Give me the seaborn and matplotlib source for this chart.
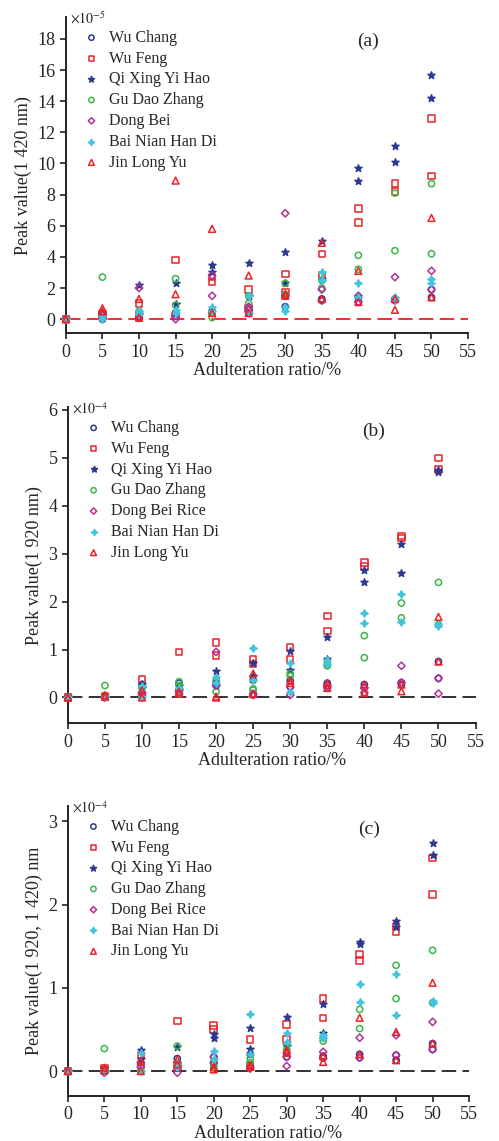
import matplotlib
matplotlib.use("Agg")
import pandas as pd
import matplotlib.pyplot as plt
import seaborn as sns

# adulteration ratio (two replicates per level)
ratio = [0, 0, 5, 5, 10, 10, 15, 15, 20, 20, 25, 25,
         30, 30, 35, 35, 40, 40, 45, 45, 50, 50]

names_a = ["Wu Chang", "Wu Feng", "Qi Xing Yi Hao", "Gu Dao Zhang",
           "Dong Bei", "Bai Nian Han Di", "Jin Long Yu"]
names_bc = ["Wu Chang", "Wu Feng", "Qi Xing Yi Hao", "Gu Dao Zhang",
            "Dong Bei Rice", "Bai Nian Han Di", "Jin Long Yu"]

# (a) peak value at 1420 nm, x1e-5
a_wu_chang = [0, 0, 0.1, 0.0, 0.3, 0.1, 0.4, 0.2, 0.5, 0.4, 0.6, 0.4,
              1.5, 0.8, 1.3, 1.2, 1.4, 1.1, 1.2, 1.3, 1.4, 1.9]
a_wu_feng = [0, 0, 0.3, 0.2, 1.0, 0.1, 3.8, 0.2, 2.7, 2.4, 1.9, 0.7,
             2.9, 1.7, 4.2, 2.8, 7.1, 6.2, 8.7, 8.2, 12.9, 9.2]
a_qi_xing = [0, 0, 0.3, 0.1, 2.2, 0.3, 2.3, 1.0, 3.5, 3.0, 3.6, 1.5,
             4.3, 2.3, 5.0, 2.6, 9.7, 8.9, 11.1, 10.1, 15.7, 14.2]
a_gu_dao = [0, 0, 2.7, 0.1, 0.5, 0.3, 2.6, 0.9, 0.4, 0.1, 1.5, 1.0,
            2.3, 1.6, 2.5, 2.0, 4.1, 3.2, 8.1, 4.4, 8.7, 4.2]
a_dong_bei = [0, 0, 0.1, 0.0, 2.0, 0.1, 0.2, 0.0, 2.8, 1.5, 0.8, 0.6,
              6.8, 1.5, 1.9, 1.2, 1.5, 1.1, 2.7, 1.2, 3.1, 1.9]
a_bai_nian = [0, 0, 0.2, 0.0, 0.5, 0.3, 0.6, 0.4, 0.8, 0.5, 1.5, 0.4,
              0.8, 0.5, 3.0, 2.5, 2.3, 1.4, 1.4, 1.2, 2.6, 2.3]
a_jin_long = [0, 0, 0.7, 0.5, 1.3, 0.1, 8.9, 1.6, 5.8, 0.4, 2.8, 0.4,
              1.6, 1.5, 4.9, 1.3, 3.1, 1.1, 1.3, 0.6, 6.5, 1.4]

# (b) peak value at 1920 nm, x1e-4
b_wu_chang = [0, 0, 0.03, 0.0, 0.27, 0.05, 0.3, 0.1, 0.3, 0.25, 0.36, 0.07,
              0.35, 0.22, 0.3, 0.25, 0.27, 0.2, 0.31, 0.27, 0.4, 0.75]
b_wu_feng = [0, 0, 0.03, 0.01, 0.39, 0.05, 0.95, 0.1, 1.15, 0.88, 0.79, 0.7,
             1.04, 0.79, 1.7, 1.39, 2.82, 2.73, 3.37, 3.33, 4.99, 4.75]
b_qi_xing = [0, 0, 0.02, 0.0, 0.28, 0.2, 0.25, 0.15, 0.56, 0.25, 0.72, 0.45,
             0.97, 0.58, 1.27, 0.8, 2.65, 2.4, 3.2, 2.6, 4.75, 4.7]
b_gu_dao = [0, 0, 0.25, 0.0, 0.2, 0.0, 0.33, 0.25, 0.35, 0.12, 0.18, 0.15,
            0.5, 0.45, 0.7, 0.66, 1.29, 0.83, 1.97, 1.66, 2.4, 1.52]
b_dong_bei = [0, 0, 0.02, 0.0, 0.1, 0.05, 0.15, 0.1, 0.95, 0.25, 0.08, 0.05,
              0.22, 0.05, 0.25, 0.2, 0.2, 0.1, 0.66, 0.31, 0.4, 0.08]
b_bai_nian = [0, 0, 0.03, 0.0, 0.25, 0.0, 0.1, 0.2, 0.43, 0.3, 1.03, 0.36,
              0.72, 0.12, 0.78, 0.7, 1.76, 1.56, 2.15, 1.57, 1.53, 1.5]
b_jin_long = [0, 0, 0.05, 0.02, 0.15, 0.0, 0.12, 0.08, 0.02, 0.0, 0.5, 0.07,
              0.35, 0.3, 0.3, 0.2, 0.27, 0.1, 0.27, 0.13, 1.68, 0.75]

# (c) peak value ratio (1920, 1420) nm, x1e-4
c_wu_chang = [0, 0, 0.02, 0.0, 0.1, 0.05, 0.15, 0.1, 0.17, 0.1, 0.2, 0.07,
              0.22, 0.17, 0.18, 0.16, 0.2, 0.16, 0.19, 0.13, 0.26, 0.33]
c_wu_feng = [0, 0, 0.03, 0.01, 0.19, 0.07, 0.6, 0.05, 0.55, 0.5, 0.38, 0.07,
             0.56, 0.38, 0.87, 0.64, 1.40, 1.33, 1.74, 1.67, 2.56, 2.12]
c_qi_xing = [0, 0, 0.02, 0.0, 0.25, 0.15, 0.29, 0.1, 0.44, 0.4, 0.52, 0.27,
             0.65, 0.3, 0.8, 0.46, 1.55, 1.53, 1.8, 1.73, 2.74, 2.59]
c_gu_dao = [0, 0, 0.27, 0.0, 0.0, 0.05, 0.3, 0.1, 0.07, 0.04, 0.15, 0.1,
            0.31, 0.25, 0.36, 0.4, 0.74, 0.51, 1.27, 0.87, 1.45, 0.82]
c_dong_bei = [0, 0, 0.0, -0.02, 0.1, 0.05, 0.05, -0.02, 0.17, 0.1, 0.05, 0.03,
              0.17, 0.06, 0.23, 0.16, 0.4, 0.16, 0.43, 0.19, 0.59, 0.26]
c_bai_nian = [0, 0, 0.03, 0.0, 0.22, 0.0, 0.1, 0.05, 0.24, 0.15, 0.68, 0.2,
              0.46, 0.35, 0.43, 0.4, 1.04, 0.83, 1.17, 0.67, 0.84, 0.82]
c_jin_long = [0, 0, 0.04, 0.01, 0.12, 0.0, 0.14, 0.08, 0.05, 0.02, 0.07, 0.05,
              0.25, 0.22, 0.18, 0.11, 0.64, 0.2, 0.47, 0.13, 1.06, 0.33]

navy = "#2b3990"
red = "#ec2227"
green = "#3cb54a"
magenta = "#b2309a"
cyan = "#44c4dc"
# (marker, colour, filled)
styles = [("o", navy, False), ("s", red, False), ("*", navy, True),
          ("o", green, False), ("D", magenta, False), ((4, 1, 0), cyan, True),
          ("^", red, False)]
sizes = [20, 22, 28, 20, 14, 28, 24]


def long_table(names, series):
    rows = []
    for n, vals in zip(names, series):
        rows.append(pd.DataFrame({"ratio": ratio, "value": vals, "rice": n}))
    return pd.concat(rows, ignore_index=True)


df_a = long_table(names_a, [a_wu_chang, a_wu_feng, a_qi_xing, a_gu_dao,
                            a_dong_bei, a_bai_nian, a_jin_long])
df_b = long_table(names_bc, [b_wu_chang, b_wu_feng, b_qi_xing, b_gu_dao,
                             b_dong_bei, b_bai_nian, b_jin_long])
df_c = long_table(names_bc, [c_wu_chang, c_wu_feng, c_qi_xing, c_gu_dao,
                             c_dong_bei, c_bai_nian, c_jin_long])

sns.set_style("ticks")
plt.rcParams["font.family"] = ["Liberation Serif", "DejaVu Serif"]
plt.rcParams["mathtext.fontset"] = "stix"

fig = plt.figure(figsize=(4.99, 11.41), dpi=100)

panels = [
    (df_a, names_a, [0.132, 0.708, 0.806, 0.277], (-0.9, 19.4), range(0, 19, 2),
     "Peak value(1 420 nm)", r"$\times10^{-5}$", "(a)", red),
    (df_b, names_bc, [0.136, 0.366, 0.817, 0.277], (-0.54, 6.05), range(0, 7),
     "Peak value(1 920 nm)", r"$\times10^{-4}$", "(b)", "#222222"),
    (df_c, names_bc, [0.136, 0.0394, 0.804, 0.254], (-0.3, 3.18), range(0, 4),
     "Peak value(1 920, 1 420) nm", r"$\times10^{-4}$", "(c)", "#222222"),
]

for df, names, pos, ylim, yticks, ylabel, offset, tag, dash_col in panels:
    ax = fig.add_axes(pos)
    ax.axhline(0, color=dash_col, lw=1.3, ls=(0, (8, 3.5)), zorder=1)
    for n, (m, c, filled), s in zip(names, styles, sizes):
        sub = df[df["rice"] == n]
        sns.scatterplot(data=sub, x="ratio", y="value", ax=ax, marker=m, s=s,
                        color=c, edgecolor=c,
                        facecolor=c if filled else "none",
                        linewidth=1.1, label=n, clip_on=False, zorder=3)
    ax.set_xlim(0, 55)
    ax.set_ylim(*ylim)
    ax.set_xticks(range(0, 56, 5))
    ax.set_yticks(list(yticks))
    ax.tick_params(labelsize=13, length=4, width=1.2, color="#222222")
    for sp in ["top", "right"]:
        ax.spines[sp].set_visible(False)
    for sp in ["left", "bottom"]:
        ax.spines[sp].set_linewidth(1.4)
        ax.spines[sp].set_color("#222222")
    ax.set_xlabel("Adulteration ratio/%", fontsize=13, labelpad=1)
    ax.set_ylabel(ylabel, fontsize=13, labelpad=4)
    ax.text(0.01, 0.995, offset, transform=ax.transAxes, fontsize=10,
            va="center", ha="left")
    ax.text(0.75, 0.95, tag, transform=ax.transAxes, fontsize=14,
            va="top", ha="center")
    ax.legend(loc="upper left", bbox_to_anchor=(0.02, 0.99), frameon=False,
              fontsize=11.5, handletextpad=0.6, labelspacing=0.3,
              borderaxespad=0.2, handlelength=1.0, markerscale=0.85)

fig.savefig("out.png", dpi=100)
